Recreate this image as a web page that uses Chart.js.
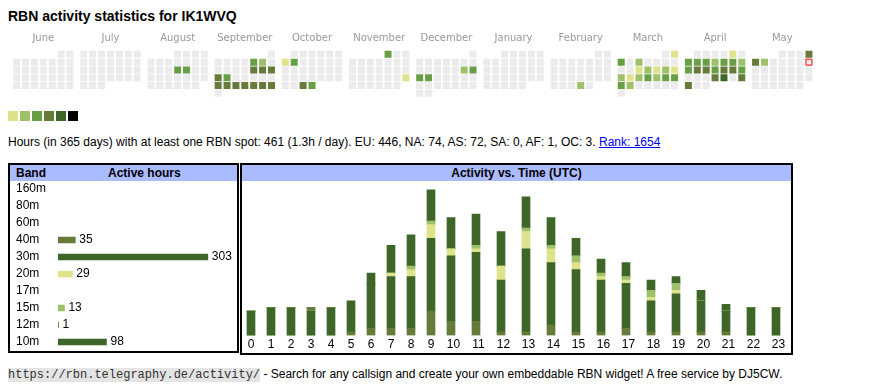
<!DOCTYPE html>
<html>
<head>
<meta charset="utf-8">
<script src="https://cdn.jsdelivr.net/npm/chart.js@4.4.1/dist/chart.umd.min.js"></script>
<style>
  body { margin: 0; width: 870px; height: 390px; overflow: hidden; background: #fff; color: #000;
         font-family: "Liberation Sans", Arial, sans-serif; font-size: 12px; position: relative; }
  .abs { position: absolute; }
  h1 { position: absolute; left: 8px; top: 7px; margin: 0; font-size: 14px; line-height: 18px; font-weight: bold; }
  .sq { position: absolute; top: 111px; width: 10px; height: 10px; }
  .box { position: absolute; box-sizing: border-box; border: 2px solid #000; }
  .head { position: absolute; left: 0; right: 0; top: 0; height: 16px; line-height: 16px; background: #aabbff; font-weight: bold; }
  a { color: #0000ee; }
  code { font-family: "Liberation Mono", "Courier New", monospace; font-size: 12px; background: #e4e4e4; color: #333; }
</style>
</head>
<body>
<h1>RBN activity statistics for IK1WVQ</h1>
<canvas id="calendar" class="abs" style="left:0;top:29px" width="870" height="76"></canvas>
<div id="legend"></div>
<div class="abs" style="left:8px;top:135px;line-height:14px;white-space:nowrap">Hours (in 365 days) with at least one RBN spot: 461 (1.3h / day). EU: 446, NA: 74, AS: 72, SA: 0, AF: 1, OC: 3. <a href="#">Rank: 1654</a></div>

<div class="box" style="left:8px;top:163px;width:231px;height:190px">
  <div class="head"><span class="abs" style="left:6px">Band</span><span class="abs" style="left:98px">Active hours</span></div>
</div>
<canvas id="bands" class="abs" style="left:16px;top:180px" width="220" height="171"></canvas>

<div class="box" style="left:240px;top:163px;width:553px;height:192px">
  <div class="head" style="text-align:center">Activity vs. Time (UTC)</div>
</div>
<canvas id="activity" class="abs" style="left:241px;top:181px" width="550" height="172"></canvas>

<div class="abs" style="left:8px;top:367px;line-height:14px;white-space:nowrap"><code>https://rbn.telegraphy.de/activity/</code> - Search for any callsign and create your own embeddable RBN widget! A free service by DJ5CW.</div>

<script>
// --- calendar: days with spots and their activity level (1 = low .. 5 = high)
const activeDays = [
  '2024-08-15','2024-08-16',
  '2024-09-06','2024-09-07','2024-09-13','2024-09-14','2024-09-15','2024-09-16','2024-09-17',
  '2024-09-23','2024-09-24','2024-09-25','2024-09-26','2024-09-27','2024-09-28','2024-09-29',
  '2024-10-07','2024-10-08','2024-10-30','2024-10-31',
  '2024-11-01','2024-11-24',
  '2024-12-14','2024-12-15','2024-12-16','2024-12-17',
  '2025-02-27',
  '2025-03-02','2025-03-03','2025-03-05','2025-03-12','2025-03-13','2025-03-14','2025-03-15','2025-03-16',
  '2025-03-17','2025-03-18','2025-03-19','2025-03-20','2025-03-21','2025-03-22','2025-03-23','2025-03-24','2025-03-25',
  '2025-04-05','2025-04-07','2025-04-08','2025-04-09','2025-04-10','2025-04-11','2025-04-12','2025-04-13',
  '2025-04-14','2025-04-15','2025-04-16','2025-04-17','2025-04-18','2025-04-19','2025-04-20',
  '2025-04-24','2025-04-25','2025-04-27','2025-04-28',
  '2025-05-04','2025-05-05','2025-05-06'
];
const activeLevels = [
  3,3,
  3,2,4,4,4,4,3,
  4,4,4,4,4,4,4,
  1,3,4,3,
  3,1,
  2,3,3,3,
  2,
  1,3,2,1,2,1,2,1,
  2,1,2,3,2,3,3,3,2,
  1,3,3,3,2,3,3,2,
  3,4,4,3,4,4,3,
  4,5,4,4,
  4,4,2
];
const today = '2025-05-11';
const monthNames = ['June','July','August','September','October','November','December','January','February','March','April','May'];
const levelColors = ['#ebebeb','#dce38b','#9dc068','#689f45','#667a3a','#3d6628','#000000'];

// --- band table
const bands = ['160m','80m','60m','40m','30m','20m','17m','15m','12m','10m'];
const bandHours = [0,0,0,35,303,29,0,13,1,98];
const bandColors = ['#689f45','#689f45','#689f45','#667a3a','#3d6628','#dce38b','#9dc068','#9dc068','#667a3a','#3d6628'];

// --- activity per UTC hour (hours with spots), per band
const utcHours = ['0','1','2','3','4','5','6','7','8','9','10','11','12','13','14','15','16','17','18','19','20','21','22','23'];
const act40m = [0,0,0,0,0,1,2,2,2,7,4,4,1,1,3,1,1,2,1,1,1,1,0,0];
const act30m = [7,8,8,7,8,8,13,15,15,21,19,20,15,24,18,18,15,13,9,11,9,6,8,8];
const act20m = [0,0,0,0,0,0,0,1,2,4,2,1,4,5,4,2,1,1,1,1,0,0,0,0];
const act15m = [0,0,0,0,0,0,0,0,1,1,0,1,0,1,1,2,1,1,2,2,0,0,0,0];
const act12m = [0,0,0,1,0,0,0,0,0,0,0,0,0,0,0,0,0,0,0,0,0,0,0,0];
const act10m = [0,0,0,0,0,1,3,8,9,9,9,9,10,9,8,5,4,4,3,2,3,2,0,0];

const FONT = '"Liberation Sans", Arial, sans-serif';

// legend squares
document.getElementById('legend').innerHTML = levelColors.slice(1)
  .map((c, i) => '<div class="sq" style="left:' + (8 + 12 * i) + 'px;background:' + c + '"></div>').join('');

// calendar layout: one block of 7 weekday columns per month
const CELL = 9, BLOCK = 7 * CELL + 5;
const pad = n => (n < 10 ? '0' : '') + n;
const cal = [];
for (let m = 0; m < 12; m++) {
  const yr = 2024 + Math.floor((5 + m) / 12), mo = (5 + m) % 12;
  const nDays = new Date(Date.UTC(yr, mo + 1, 0)).getUTCDate();
  const dow0 = (new Date(Date.UTC(yr, mo, 1)).getUTCDay() + 6) % 7;
  for (let d = 1; d <= nDays; d++) {
    const k = dow0 + d - 1;
    const iso = yr + '-' + pad(mo + 1) + '-' + pad(d);
    const idx = activeDays.indexOf(iso);
    cal.push({ x: m * BLOCK + (k % 7) * CELL, y: Math.floor(k / 7),
               level: idx < 0 ? 0 : activeLevels[idx], today: iso === today });
  }
}

const calTop = 15; // px from canvas top to chart area (axis labels above)
const calMin = -(52.5 - 29 - calTop) / CELL;
new Chart(document.getElementById('calendar'), {
  type: 'scatter',
  data: { datasets: [{
    data: cal,
    pointStyle: 'rect',
    pointRadius: cal.map(p => (p.today ? 6 : 7) / Math.SQRT2),
    pointBackgroundColor: cal.map(p => p.today ? '#eeeeee' : levelColors[p.level]),
    pointBorderColor: cal.map(p => p.today ? '#ff0000' : 'rgba(0,0,0,0)'),
    pointBorderWidth: cal.map(p => p.today ? 1 : 0)
  }]},
  options: {
    responsive: false, animation: false, events: [],
    layout: { padding: 0 },
    plugins: { legend: { display: false }, tooltip: { enabled: false } },
    scales: {
      x: {
        type: 'linear', position: 'top', min: -11.5, max: 858.5, offset: false,
        grid: { display: false, drawTicks: false }, border: { display: false },
        afterBuildTicks: s => { s.ticks = monthNames.map((n, m) => ({ value: m * BLOCK + 3 * CELL })); },
        ticks: { autoSkip: false, maxRotation: 0, padding: 3, color: '#999',
                 font: { family: '"DejaVu Sans", Verdana, sans-serif', size: 10 },
                 callback: (v, i) => monthNames[i] }
      },
      y: { display: false, reverse: true, min: calMin, max: calMin + (76 - calTop) / CELL }
    }
  }
});

// band table: horizontal bars with value labels
const valueLabels = {
  id: 'valueLabels',
  afterDatasetsDraw(chart) {
    const ctx = chart.ctx;
    ctx.save();
    ctx.font = '12px ' + FONT;
    ctx.fillStyle = '#000';
    ctx.textBaseline = 'middle';
    chart.getDatasetMeta(0).data.forEach((bar, i) => {
      if (bandHours[i] > 0) ctx.fillText(bandHours[i], chart.scales.x.getPixelForValue(bandHours[i]) + 4, bar.y);
    });
    ctx.restore();
  }
};
new Chart(document.getElementById('bands'), {
  type: 'bar',
  data: { labels: bands, datasets: [{ data: bandHours.map(v => v || null), backgroundColor: bandColors, barThickness: 6, borderWidth: 0 }] },
  options: {
    indexAxis: 'y', responsive: false, animation: false, events: [],
    layout: { padding: { top: 0.5, bottom: 0.5, left: 0, right: 0 } },
    plugins: { legend: { display: false }, tooltip: { enabled: false } },
    scales: {
      x: { display: false, min: 0, max: 360 },
      y: { grid: { display: false }, border: { display: false },
           afterFit: s => { s.width = 42; s.paddingTop = 0; s.paddingBottom = 0; },
           ticks: { autoSkip: false, crossAlign: 'far', padding: 0, color: '#000', font: { family: FONT, size: 12 } } }
    }
  },
  plugins: [valueLabels]
});

// activity vs time: column width follows the label like the original table
const colW = utcHours.map(h => 15 + 5 * h.length);
const colLeft = [];
let acc = 0;
colW.forEach(w => { colLeft.push(acc); acc += w; });
const barX = colLeft.map(l => l + 10);
const labelX = colLeft.map((l, i) => l + colW[i] / 2);
const UNIT_PX = 3.5;

const series = [
  ['40m', act40m, '#667a3a'],
  ['30m', act30m, '#3d6628'],
  ['20m', act20m, '#dce38b'],
  ['15m', act15m, '#9dc068'],
  ['12m', act12m, '#667a3a'],
  ['10m', act10m, '#3d6628']
];
new Chart(document.getElementById('activity'), {
  type: 'bar',
  data: { datasets: series.map(([band, vals, color]) => ({
    label: band,
    data: vals.map((v, i) => ({ x: barX[i], y: v })),
    backgroundColor: color, barThickness: 8, borderWidth: 0
  })) },
  options: {
    responsive: false, animation: false, events: [],
    layout: { padding: 0 },
    plugins: { legend: { display: false }, tooltip: { enabled: false } },
    scales: {
      x: { type: 'linear', stacked: true, offset: false, min: 0, max: acc,
           grid: { display: false, drawTicks: false }, border: { display: false },
           afterBuildTicks: s => { s.ticks = labelX.map(v => ({ value: v })); },
           ticks: { autoSkip: false, maxRotation: 0, padding: 1.6, color: '#000',
                    font: { family: FONT, size: 12 }, callback: (v, i) => utcHours[i] } },
      y: { display: false, stacked: true, min: 0, max: 156 / UNIT_PX }
    }
  }
});
</script>
</body>
</html>
